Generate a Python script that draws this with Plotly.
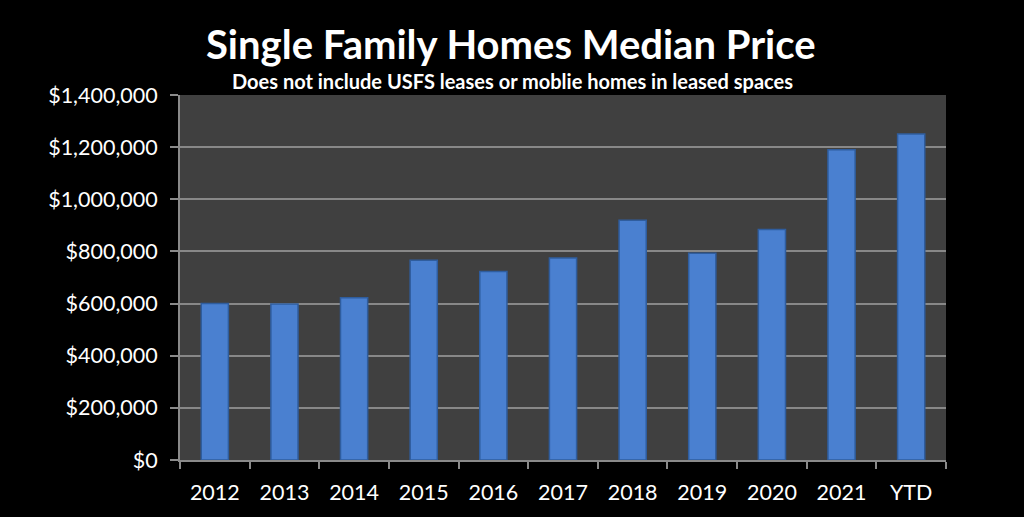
import plotly.graph_objects as go

categories = ["2012", "2013", "2014", "2015", "2016", "2017", "2018", "2019", "2020", "2021", "YTD"]
median_price = [600000, 598000, 622000, 766000, 723000, 775000, 920000, 793000, 884000, 1190000, 1250000]
y_ticks = [0, 200000, 400000, 600000, 800000, 1000000, 1200000, 1400000]
y_tick_labels = ["$0", "$200,000", "$400,000", "$600,000", "$800,000", "$1,000,000", "$1,200,000", "$1,400,000"]

FONT = "Lato, 'Open Sans', sans-serif"

fig = go.Figure()
fig.add_trace(go.Bar(
    x=categories,
    y=median_price,
    width=0.39,
    marker=dict(color="#4a80d0", line=dict(color="#2f5d9e", width=1.5)),
    hoverinfo="x+y",
))

L, R, T, B = 180, 78, 95, 57
W, H = 1024, 517
pw, ph = W - L - R, H - T - B

def px_to_paper(px, py):
    return (px - L) / pw, (H - B - py) / ph

tx, ty = px_to_paper(511, 44)
sx, sy = px_to_paper(512, 81)

fig.update_layout(
    width=W, height=H,
    paper_bgcolor="#000000",
    plot_bgcolor="#404040",
    margin=dict(l=L, r=R, t=T, b=B),
    showlegend=False,
    font=dict(family=FONT, color="#ffffff"),
    annotations=[
        dict(text="<b>Single Family Homes Median Price</b>", x=tx, y=ty, xref="paper", yref="paper",
             xanchor="center", yanchor="middle",
             showarrow=False, font=dict(size=40, color="#ffffff", family=FONT)),
        dict(text="<b>Does not include USFS leases or moblie homes in leased spaces</b>", x=sx, y=sy,
             xref="paper", yref="paper", xanchor="center", yanchor="middle",
             showarrow=False, font=dict(size=20, color="#ffffff", family=FONT)),
    ],
)

fig.update_xaxes(
    showgrid=False,
    showline=True, linecolor="#8a8a8a", linewidth=2,
    ticks="outside", tickson="boundaries", ticklen=7, tickcolor="#8a8a8a", tickwidth=1.5,
    tickfont=dict(size=21.5, color="#ffffff", family=FONT),
    ticklabelstandoff=12,
    range=[-0.5, len(categories) - 0.5],
)
fig.update_yaxes(
    range=[0, 1400000],
    tickvals=y_ticks,
    ticktext=y_tick_labels,
    showgrid=True, gridcolor="#888888", gridwidth=2,
    showline=True, linecolor="#8a8a8a", linewidth=2,
    ticks="outside", ticklen=8, tickcolor="#8a8a8a", tickwidth=1.5,
    tickfont=dict(size=21.5, color="#ffffff", family=FONT),
    ticklabelstandoff=8,
    zeroline=False,
)

fig.write_html("out.html")
